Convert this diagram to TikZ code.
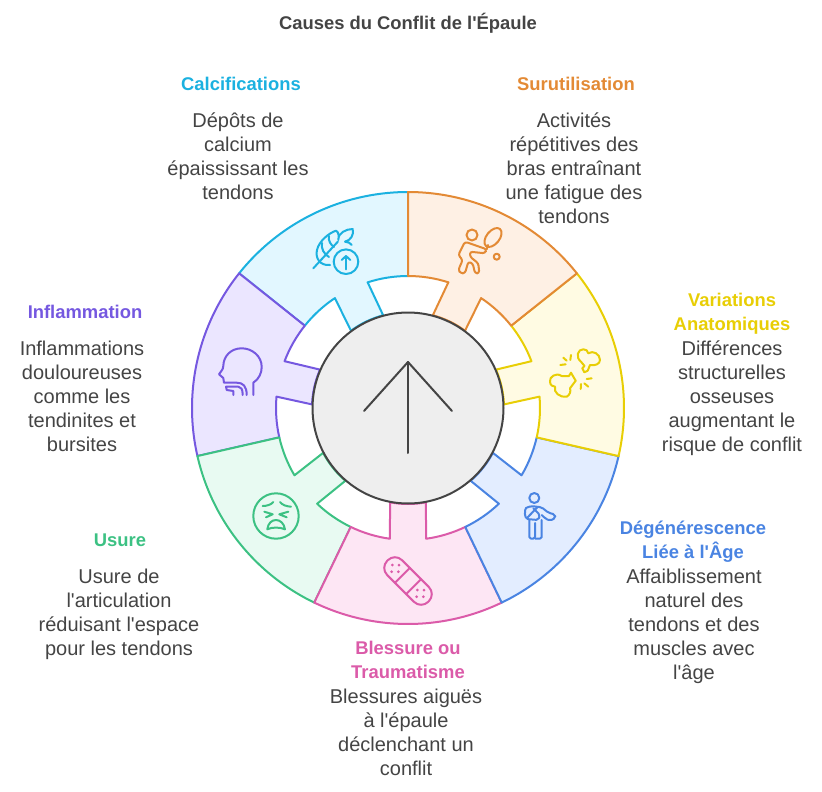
\documentclass[tikz,border=0pt]{standalone}
\usepackage{fontspec}
\setmainfont{Liberation Sans}[Ligatures=TeXOff]
\usepackage{xcolor}
\usetikzlibrary{positioning}

\definecolor{inkgray}{HTML}{444444}
\definecolor{cyanline}{HTML}{1BB1E0}
\definecolor{cyanfill}{HTML}{E2F7FF}
\definecolor{purpline}{HTML}{7558E0}
\definecolor{purpfill}{HTML}{EBE6FF}
\definecolor{greenline}{HTML}{3CC183}
\definecolor{greenfill}{HTML}{E8FAF2}
\definecolor{pinkline}{HTML}{DB5BA9}
\definecolor{pinkfill}{HTML}{FDE6F4}
\definecolor{blueline}{HTML}{4A84E2}
\definecolor{bluefill}{HTML}{E3EDFF}
\definecolor{yellowline}{HTML}{E8CE05}
\definecolor{yellowfill}{HTML}{FFFBE3}
\definecolor{orangeline}{HTML}{E38A35}
\definecolor{orangefill}{HTML}{FEF0E4}

\begin{document}
\begin{tikzpicture}[
  x=1pt,y=-1pt,
  txt/.style={inner sep=0pt,align=center,text=inkgray,font=\fontsize{20}{24}\selectfont},
  ttl/.style={txt,font=\fontsize{18.4}{24}\selectfont\bfseries},
  icn/.style={line width=2pt,line cap=round,line join=round},
  arr/.style={line width=2pt,draw=inkgray,line cap=round,line join=round}
]
\useasboundingbox (0,0) rectangle (822,792);

% wheel
\begin{scope}[shift={(408,408)},y=1pt]
  \foreach \a/\col in {141.43/cyan,192.86/purp,244.29/green,295.71/pink,347.14/blue,398.57/yellow,450/orange}{
    \draw[line width=2pt,line join=round,draw=\col line,fill=\col fill]
      ({\a}:216) arc[start angle=\a,end angle=\a-51.43,radius=216]
      -- ({\a-51.43}:132) arc[start angle=\a-51.43,end angle=\a-33.63,radius=132]
      -- ({\a-36.43}:96) arc[start angle=\a-36.43,end angle=\a-15,radius=96]
      -- ({\a-17.8}:132) arc[start angle=\a-17.8,end angle=\a,radius=132]
      -- cycle;
  }
  \node[circle,draw=inkgray,line width=2pt,fill=black!6.5,minimum size=191pt,inner sep=0pt] (hub) at (0,0) {};
\end{scope}
\coordinate (tip) at (408,362);
\coordinate (tail) at (408,453);
\coordinate (barbl) at (364,411);
\coordinate (barbr) at (452,411);
\draw[arr] (tail)--(tip);
\draw[arr] (barbl)--(tip)--(barbr);

% icons
\draw[icn,cyanline] (330,265) .. controls (320,266) and (315,258) .. (317,250)
    .. controls (319,241) and (329,233) .. (336,230.7) .. controls (339,232) and (339,237) .. (338.3,240)
    .. controls (338,233) and (346,229) .. (352.7,229) .. controls (354,235) and (351,240) .. (345,241.7)
    .. controls (348,242) and (351,243) .. (351.7,245);
\draw[icn,cyanline] (313.3,268.3)--(338,241.5);
\draw[icn,cyanline] (322,243) .. controls (321,249) and (324,254) .. (329,257);
\draw[icn,cyanline] (329,236) .. controls (328,241) and (331,245) .. (334,247);
\draw[icn,cyanline] (346,261.7) circle[radius=12.3];
\draw[icn,cyanline] (346,269.3)--(346,256);
\draw[icn,cyanline] (341.7,260)--(346,256)--(350.3,260);

\draw[icn,orangeline] (472,235) circle[radius=5.5];
\draw[icn,orangeline,rotate around={51:(493,237.5)}] (493,237.5) ellipse[x radius=11,y radius=6.5];
\draw[icn,orangeline] (496.7,256.7) circle[radius=3];
\draw[icn,orangeline,rounded corners=2.5pt] (465,241.7)--(486.7,249.3)--(485,253.3)--(470,251.7)--(470,256.7)
    --(478.3,263.3)--(479.3,273.3)--(475,273.3)--(472.7,263.3)--(468.3,261.7)--(465,273.3)--(460.7,273.3)
    --(458.3,270)--(462.7,260)--(458.3,255)--cycle;
\draw[icn,orangeline] (486.7,249.3)--(488,245);

\draw[icn,yellowline] (581,361.7) .. controls (575,357) and (578,349) .. (583.3,349.3) .. controls (586,349) and (588,351) .. (588.3,353.3)
    .. controls (593,350) and (600,354) .. (600,360) .. controls (600,364) and (595,366) .. (590,365)
    -- (587.7,370.7) -- (584.3,372.3) -- (582.3,368.3) -- (584.5,366) -- cycle;
\draw[icn,yellowline] (561.7,376) .. controls (556,372) and (549,377) .. (550,381.7) .. controls (550,385) and (553,387) .. (555,386.7)
    .. controls (553,392) and (560,398) .. (566.7,396.7) .. controls (570,395) and (571,391) .. (570,388.3)
    -- (575.7,380.7) -- (573.3,376.7) -- (571,372.7) -- (569,376) -- cycle;
\foreach \p/\q in {{571,355}/{570.3,360},{563.3,357.7}/{566.7,360.7},{560.3,365}/{565.7,364.3},
                   {586.7,379}/{591.7,378.3},{584.3,383.3}/{588.3,386.7},{581,384}/{580.7,389}}
  \draw[icn,yellowline] (\p)--(\q);

\draw[icn,purpline] (253.3,395)--(253.3,382.7) .. controls (259,379) and (261.7,373) .. (261.7,367)
    .. controls (261.7,356) and (252,348.3) .. (241.7,348.3) .. controls (231,348.3) and (223.5,356) .. (223.3,366)
    .. controls (223,370) and (221,371) .. (219,374.3) -- (223.3,378) -- (224,382.7) -- (236.7,382.7)
    .. controls (243,382.7) and (246.7,386) .. (246.7,395);
\draw[icn,purpline] (233.3,395)--(233.3,391)--(226.7,390)--(226,386.7)--(238.3,386.7)
    .. controls (241,386.7) and (242.7,389) .. (242.7,395);

\draw[icn,greenline] (276,516) circle[radius=22.7];
\draw[icn,greenline] (262.7,506) .. controls (266,506) and (271,505) .. (273.3,502);
\draw[icn,greenline] (280,502) .. controls (282,505) and (287,506.5) .. (291,506.7);
\draw[icn,greenline] (264.3,511.7)--(272.7,514.3)--(266,517.3);
\draw[icn,greenline] (288.3,511.7)--(279.3,514.3)--(286.7,517.3);
\draw[icn,greenline] (267.3,529.3) .. controls (268,523) and (272,520) .. (276,520)
    .. controls (280,520) and (284,523) .. (285,529.3) .. controls (280,527) and (272,527) .. cycle;

\begin{scope}[shift={(408,581)},rotate=-45]
  \draw[icn,pinkline,rounded corners=10pt] (-29,-10.5) rectangle (29,10.5);
  \draw[icn,pinkline] (-8,-10.5)--(-8,10.5);
  \draw[icn,pinkline] (8,-10.5)--(8,10.5);
\end{scope}
\foreach \p in {{392.3,565},{399,565},{391.7,571.7},{398.3,571.7},{417.3,590},{424,590},{416.7,596.7},{423.3,596.7}}
  \fill[pinkline] (\p) circle[radius=1.5];

\draw[icn,blueline] (534.3,498) circle[radius=5];
\draw[icn,blueline,rounded corners=1.5pt] (529.3,520)--(529.3,538.5)--(535,538.5)--(535,523);
\draw[icn,blueline,rounded corners=1.5pt] (535,538.5)--(541.7,538.5)--(541.7,520);
\draw[icn,blueline,rounded corners=2pt] (526,508)--(531,506)--(541.7,507.3)--(548.3,512.7)--(555,514.5)--(555.5,518)--(550,520.7)--(545,518.3)--(541.7,515);
\draw[icn,blueline,rounded corners=2pt] (526,508)--(524.5,512)--(526,519)--(538.3,520)--(540,515)--(533.3,508.3);
\draw[icn,blueline] (526.7,518.3)--(537.3,507.3);

% labels
\node[ttl] (title) at (408,25) {\strut Causes du Conflit de l'Épaule\strut};

\node[ttl,text=cyanline] (tcalc) at (241,86) {\strut Calcifications\strut};
\node[txt,below=12pt of tcalc,xshift=-3pt] (bcalc) {\strut Dépôts de\\calcium\\épaississant les\\tendons\strut};

\node[ttl,text=orangeline] (tsur) at (576,86) {\strut Surutilisation\strut};
\node[txt,below=12pt of tsur,xshift=-2pt] (bsur) {\strut Activités\\répétitives des\\bras entraînant\\une fatigue des\\tendons\strut};

\node[ttl,text=yellowline] (tvar) at (732,314) {\strut Variations\\Anatomiques\strut};
\node[txt,below=0pt of tvar] (bvar) {\strut Différences\\structurelles\\osseuses\\augmentant le\\risque de conflit\strut};

\node[ttl,text=blueline] (tdeg) at (693,542) {\strut Dégénérescence\\Liée à l'Âge\strut};
\node[txt,below=0pt of tdeg,xshift=1pt] (bdeg) {\strut Affaiblissement\\naturel des\\tendons et des\\muscles avec\\l'âge\strut};

\node[ttl,text=pinkline] (tble) at (408,662) {\strut Blessure ou\\Traumatisme\strut};
\node[txt,below=0pt of tble,xshift=-2pt] (bble) {\strut Blessures aiguës\\à l'épaule\\déclenchant un\\conflit\strut};

\node[ttl,text=greenline] (tusu) at (120,542) {\strut Usure\strut};
\node[txt,below=12pt of tusu,xshift=-1pt] (busu) {\strut Usure de\\l'articulation\\réduisant l'espace\\pour les tendons\strut};

\node[ttl,text=purpline] (tinf) at (85,314) {\strut Inflammation\strut};
\node[txt,below=12pt of tinf,xshift=-3pt] (binf) {\strut Inflammations\\douloureuses\\comme les\\tendinites et\\bursites\strut};
\end{tikzpicture}
\end{document}
